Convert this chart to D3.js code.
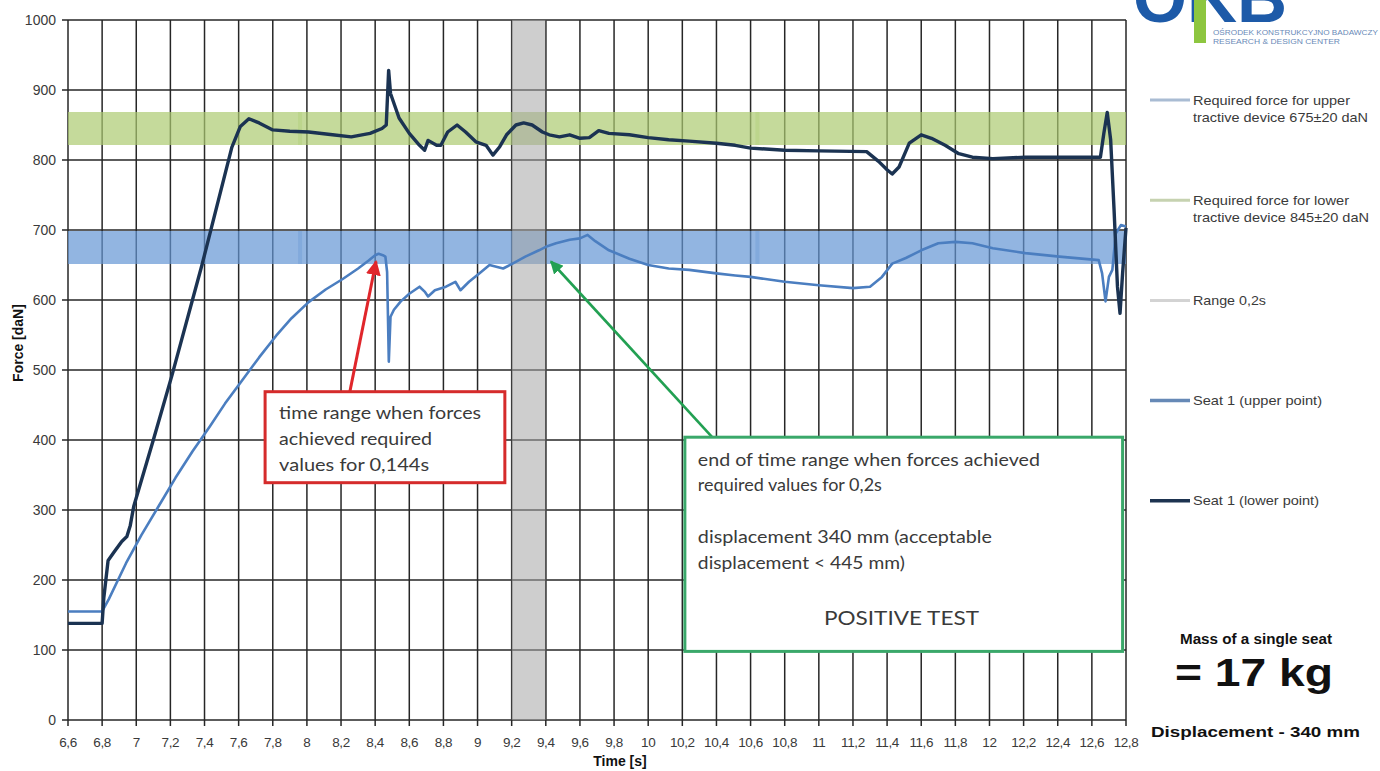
<!DOCTYPE html>
<html>
<head>
<meta charset="utf-8">
<script src="https://cdn.jsdelivr.net/npm/d3@7"></script>
<style>
  body { margin: 0; background: #fff; }
  svg { display: block; }
</style>
</head>
<body>
<svg id="chart" width="1380" height="771"></svg>
<script>
// ---- Axis ticks ----
const xTicks = [6.6, 6.8, 7.0, 7.2, 7.4, 7.6, 7.8, 8.0, 8.2, 8.4, 8.6, 8.8, 9.0, 9.2, 9.4, 9.6, 9.8,
                10.0, 10.2, 10.4, 10.6, 10.8, 11.0, 11.2, 11.4, 11.6, 11.8, 12.0, 12.2, 12.4, 12.6, 12.8];
const yTicks = [0, 100, 200, 300, 400, 500, 600, 700, 800, 900, 1000];

// ---- Seat 1 (lower point), force in daN over time in s ----
const lowerTime = [6.60, 6.80, 6.81, 6.835, 6.87, 6.915, 6.945, 6.965, 6.985, 7.10, 7.21, 7.385, 7.56, 7.61,
  7.66, 7.72, 7.80, 7.90, 8.01, 8.15, 8.26, 8.37, 8.44, 8.465, 8.479, 8.49, 8.54, 8.60, 8.66, 8.69, 8.71,
  8.76, 8.785, 8.825, 8.88, 8.93, 8.99, 9.05, 9.09, 9.13, 9.17, 9.225, 9.27, 9.32, 9.38, 9.42, 9.48, 9.54,
  9.60, 9.655, 9.71, 9.77, 9.89, 10.0, 10.12, 10.24, 10.40, 10.51, 10.60, 10.80, 11.00, 11.28, 11.35, 11.40,
  11.43, 11.47, 11.53, 11.60, 11.66, 11.74, 11.82, 11.90, 12.02, 12.21, 12.41, 12.65, 12.67, 12.69, 12.71,
  12.73, 12.75, 12.765, 12.78, 12.80];
const lowerForce = [138, 138, 175, 228, 240, 255, 262, 278, 305, 400, 493, 650, 818, 848,
  859, 853, 843, 841, 840, 836, 833, 838, 845, 850, 928, 895, 860, 838, 821, 814, 828,
  821, 821, 840, 850, 840, 826, 821, 807, 819, 836, 850, 853, 850, 840, 836, 833, 836,
  831, 832, 842, 838, 836, 832, 829, 827, 824, 821, 817, 814, 813, 812, 798, 786,
  780, 790, 824, 836, 831, 821, 809, 804, 802, 804, 804, 804, 838, 868, 829,
  729, 619, 581, 638, 703];

// ---- Seat 1 (upper point) ----
const upperTime = [6.60, 6.80, 6.84, 6.94, 7.03, 7.13, 7.23, 7.33, 7.43, 7.52, 7.62, 7.72, 7.82, 7.91,
  8.01, 8.11, 8.21, 8.30, 8.36, 8.40, 8.42, 8.445, 8.46, 8.47, 8.48, 8.49, 8.51, 8.55, 8.60, 8.66, 8.69,
  8.71, 8.75, 8.815, 8.87, 8.90, 8.95, 9.01, 9.07, 9.15, 9.205, 9.28, 9.36, 9.40, 9.46, 9.54, 9.60, 9.645,
  9.69, 9.77, 9.89, 10.0, 10.12, 10.24, 10.40, 10.51, 10.60, 10.80, 11.00, 11.20, 11.30, 11.37, 11.43,
  11.51, 11.60, 11.70, 11.80, 11.90, 12.02, 12.21, 12.41, 12.64, 12.66, 12.68, 12.70, 12.72, 12.74,
  12.77, 12.80];
const upperForce = [155, 155, 173, 224, 264, 305, 346, 384, 419, 452, 485, 518, 549, 574,
  597, 615, 630, 645, 656, 664, 666, 664, 662, 640, 512, 576, 586, 598, 609, 619, 612,
  605, 614, 619, 626, 614, 626, 638, 650, 645, 652, 662, 671, 676, 681, 686, 688, 693,
  684, 671, 659, 650, 645, 643, 638, 635, 633, 626, 621, 617, 619, 633, 652,
  660, 671, 681, 683, 681, 674, 667, 662, 657, 638, 598, 633, 643, 695,
  707, 705];

// ---- Required force levels (daN) and the 0,2 s range (s) ----
const requiredUpper = 675;
const requiredLower = 845;
const requiredSpan = [6.6, 12.8];
const requiredJoints = [7.96, 10.64];
const rangeStart = 9.2;
const rangeEnd = 9.4;

// ---- Legend ----
const legendLabels = [
  ["Required force for upper", "tractive device 675±20 daN"],
  ["Required force for lower", "tractive device 845±20 daN"],
  ["Range 0,2s"],
  ["Seat 1 (upper point)"],
  ["Seat 1 (lower point)"]
];
const legendColors = ["#a9bcd3", "#c6d2b0", "#d3d3d3", "#6689b6", "#1d3350"];
const legendWidths = [[157, 175], [156, 176], [73], [129], [126]];

// ---- Colours ----
const colLower = "#1b3352";
const colUpper = "#4b7ec0";
const colBandUpper = "rgb(100,150,212)";
const colBandLower = "rgb(172,202,112)";
const colRange = "rgb(165,165,165)";
const colGrid = "#262626";

const svg = d3.select("#chart");
const plotL = 68, plotR = 1126, plotT = 20, plotB = 720;

const x = d3.scaleLinear().domain([6.6, 12.8]).range([plotL, plotR]);
const y = d3.scaleLinear().domain([0, 1000]).range([plotB, plotT]);

svg.append("rect").attr("width", 1380).attr("height", 771).attr("fill", "#fff");

// ---- Gridlines and axes ----
const grid = svg.append("g");
grid.selectAll("line.h").data(yTicks).join("line")
  .attr("x1", plotL - 6).attr("x2", plotR)
  .attr("y1", d => y(d)).attr("y2", d => y(d))
  .attr("stroke", colGrid).attr("stroke-width", 1.5);
grid.selectAll("line.v").data(xTicks).join("line")
  .attr("x1", d => x(d)).attr("x2", d => x(d))
  .attr("y1", plotT).attr("y2", plotB + 6)
  .attr("stroke", colGrid).attr("stroke-width", 1.5);

const fmt = v => (Math.round(v * 10) / 10).toString().replace(".", ",");
svg.append("g").selectAll("text").data(yTicks).join("text")
  .attr("x", plotL - 12).attr("y", d => y(d)).attr("dy", "0.35em")
  .attr("text-anchor", "end")
  .attr("font-family", "Liberation Sans, Arial, sans-serif").attr("font-size", 14)
  .attr("fill", "#3a3a3a").text(d => d);
svg.append("g").selectAll("text").data(xTicks).join("text")
  .attr("x", d => x(d)).attr("y", plotB + 27)
  .attr("text-anchor", "middle")
  .attr("font-family", "Liberation Sans, Arial, sans-serif").attr("font-size", 13.5)
  .attr("letter-spacing", "-0.4")
  .attr("fill", "#3a3a3a").text(d => fmt(d));

svg.append("text").attr("x", 620).attr("y", 766).attr("text-anchor", "middle")
  .attr("font-family", "Liberation Sans, Arial, sans-serif").attr("font-size", 14)
  .attr("font-weight", "bold").attr("fill", "#111").text("Time [s]");
svg.append("text").attr("transform", "translate(23,343) rotate(-90)").attr("text-anchor", "middle")
  .attr("font-family", "Liberation Sans, Arial, sans-serif").attr("font-size", 14)
  .attr("font-weight", "bold").attr("fill", "#111").text("Force [daN]");

// ---- Required force bands (thick translucent lines) ----
const bands = svg.append("g");
[[requiredUpper, colBandUpper], [requiredLower, colBandLower]].forEach(([lvl, c]) => {
  bands.append("line")
    .attr("x1", x(requiredSpan[0])).attr("x2", x(requiredSpan[1]))
    .attr("y1", y(lvl)).attr("y2", y(lvl))
    .attr("stroke", c).attr("stroke-width", 33).attr("stroke-opacity", 0.7);
  bands.selectAll(null).data(requiredJoints).join("line")
    .attr("x1", d => x(d)).attr("x2", d => x(d))
    .attr("y1", y(lvl) - 16.5).attr("y2", y(lvl) + 16.5)
    .attr("stroke", c).attr("stroke-width", 4).attr("stroke-opacity", 0.35);
});

// ---- Range 0,2s ----
svg.append("rect")
  .attr("x", x(rangeStart)).attr("width", x(rangeEnd) - x(rangeStart))
  .attr("y", y(1000)).attr("height", y(0) - y(1000))
  .attr("fill", colRange).attr("fill-opacity", 0.55);
svg.append("line")
  .attr("x1", x(rangeEnd)).attr("x2", x(rangeEnd)).attr("y1", y(1000)).attr("y2", y(0))
  .attr("stroke", "#555").attr("stroke-width", 1.5);

// ---- Measured force curves ----
const line = d3.line().x(d => x(d[0])).y(d => y(d[1]));
svg.append("path").datum(d3.zip(upperTime, upperForce))
  .attr("d", line).attr("fill", "none").attr("stroke", colUpper)
  .attr("stroke-width", 2.6).attr("stroke-linejoin", "round");
svg.append("path").datum(d3.zip(lowerTime, lowerForce))
  .attr("d", line).attr("fill", "none").attr("stroke", colLower)
  .attr("stroke-width", 3.4).attr("stroke-linejoin", "round");

// ---- Annotations ----
const defs = svg.append("defs");
[["arrRed", "#e0262b"], ["arrGreen", "#22a052"]].forEach(([id, c]) => {
  defs.append("marker").attr("id", id).attr("viewBox", "0 0 10 10")
    .attr("refX", 9).attr("refY", 5).attr("markerWidth", 5).attr("markerHeight", 5)
    .attr("orient", "auto")
    .append("path").attr("d", "M0,0 L10,5 L0,10 z").attr("fill", c);
});
defs.append("clipPath").attr("id", "logoClip")
  .append("rect").attr("x", 1120).attr("y", 0).attr("width", 260).attr("height", 24);

const redBox = { t0: 7.755, t1: 9.16, f0: 339, f1: 469 };
const greenBox = { t0: 10.215, t1: 12.78, f0: 98, f1: 404 };

svg.append("line")
  .attr("x1", x(8.25)).attr("y1", y(467)).attr("x2", x(8.405)).attr("y2", y(655))
  .attr("stroke", "#e0262b").attr("stroke-width", 3).attr("marker-end", "url(#arrRed)");
svg.append("line")
  .attr("x1", x(10.375)).attr("y1", y(404)).attr("x2", x(9.43)).attr("y2", y(655))
  .attr("stroke", "#22a052").attr("stroke-width", 2.6).attr("marker-end", "url(#arrGreen)");

function box(b, stroke) {
  svg.append("rect")
    .attr("x", x(b.t0)).attr("y", y(b.f1))
    .attr("width", x(b.t1) - x(b.t0)).attr("height", y(b.f0) - y(b.f1))
    .attr("fill", "#fff").attr("stroke", stroke).attr("stroke-width", 3);
}
box(redBox, "#d52b2b");
box(greenBox, "#3aa86a");

const noteFont = "Lato, 'Open Sans', sans-serif";
function note(txt, px, py, w, anchor) {
  svg.append("text").attr("x", px).attr("y", py)
    .attr("text-anchor", anchor || "start")
    .attr("font-family", noteFont).attr("font-size", 17.5).attr("fill", "#3a3a3a")
    .attr("textLength", w).attr("lengthAdjust", "spacingAndGlyphs").text(txt);
}
const rx = x(redBox.t0) + 14, ry = y(redBox.f1);
note("time range when forces", rx, ry + 27, 202);
note("achieved required", rx, ry + 53, 153);
note("values for 0,144s", rx, ry + 79, 150);
const gx = x(greenBox.t0) + 13, gy = y(greenBox.f1);
note("end of time range when forces achieved", gx, gy + 29, 342);
note("required values for 0,2s", gx, gy + 54, 184);
note("displacement 340 mm (acceptable", gx, gy + 106, 294);
note("displacement < 445 mm)", gx, gy + 132, 207);
svg.append("text").attr("x", 824).attr("y", gy + 188)
  .attr("font-family", noteFont).attr("font-size", 20).attr("fill", "#3a3a3a")
  .attr("textLength", 155).attr("lengthAdjust", "spacingAndGlyphs").text("POSITIVE TEST");

// ---- Legend ----
const lg = svg.append("g");
legendLabels.forEach((lines, i) => {
  const ly = 100 + i * 100.2;
  lg.append("line").attr("x1", 1150).attr("x2", 1190).attr("y1", ly).attr("y2", ly)
    .attr("stroke", legendColors[i]).attr("stroke-width", i >= 3 ? 3.5 : 3);
  lines.forEach((t, j) => {
    lg.append("text").attr("x", 1193).attr("y", ly + j * 17).attr("dy", "0.35em")
      .attr("font-family", "Liberation Sans, Arial, sans-serif").attr("font-size", 13)
      .attr("fill", "#3a3a3a")
      .attr("textLength", legendWidths[i][j]).attr("lengthAdjust", "spacingAndGlyphs").text(t);
  });
});

// ---- Logo ----
svg.append("g").attr("clip-path", "url(#logoClip)")
  .append("text").attr("x", 1133).attr("y", 22)
  .attr("font-family", "Liberation Sans, Arial, sans-serif").attr("font-size", 70)
  .attr("font-weight", "bold").attr("fill", "#1d5aa8")
  .attr("textLength", 154).attr("lengthAdjust", "spacingAndGlyphs").text("OKB");
svg.append("rect").attr("x", 1194).attr("y", 0).attr("width", 12).attr("height", 43).attr("fill", "#8dc63f");
svg.append("text").attr("x", 1213).attr("y", 35)
  .attr("font-family", "Liberation Sans, Arial, sans-serif").attr("font-size", 7)
  .attr("fill", "#6a8ab8").attr("textLength", 165).attr("lengthAdjust", "spacingAndGlyphs")
  .text("OŚRODEK KONSTRUKCYJNO BADAWCZY");
svg.append("text").attr("x", 1213).attr("y", 44)
  .attr("font-family", "Liberation Sans, Arial, sans-serif").attr("font-size", 7)
  .attr("fill", "#6a8ab8").attr("textLength", 127).attr("lengthAdjust", "spacingAndGlyphs")
  .text("RESEARCH & DESIGN CENTER");

// ---- Test summary ----
const bold = (t, px, py, fs, w) => svg.append("text").attr("x", px).attr("y", py)
  .attr("font-family", "Liberation Sans, Arial, sans-serif").attr("font-size", fs)
  .attr("font-weight", "bold").attr("fill", "#111")
  .attr("textLength", w).attr("lengthAdjust", "spacingAndGlyphs").text(t);
bold("Mass of a single seat", 1180, 644, 14, 152);
bold("= 17 kg", 1175, 686, 38, 158);
bold("Displacement - 340 mm", 1151, 737, 15, 209);
</script>
</body>
</html>
